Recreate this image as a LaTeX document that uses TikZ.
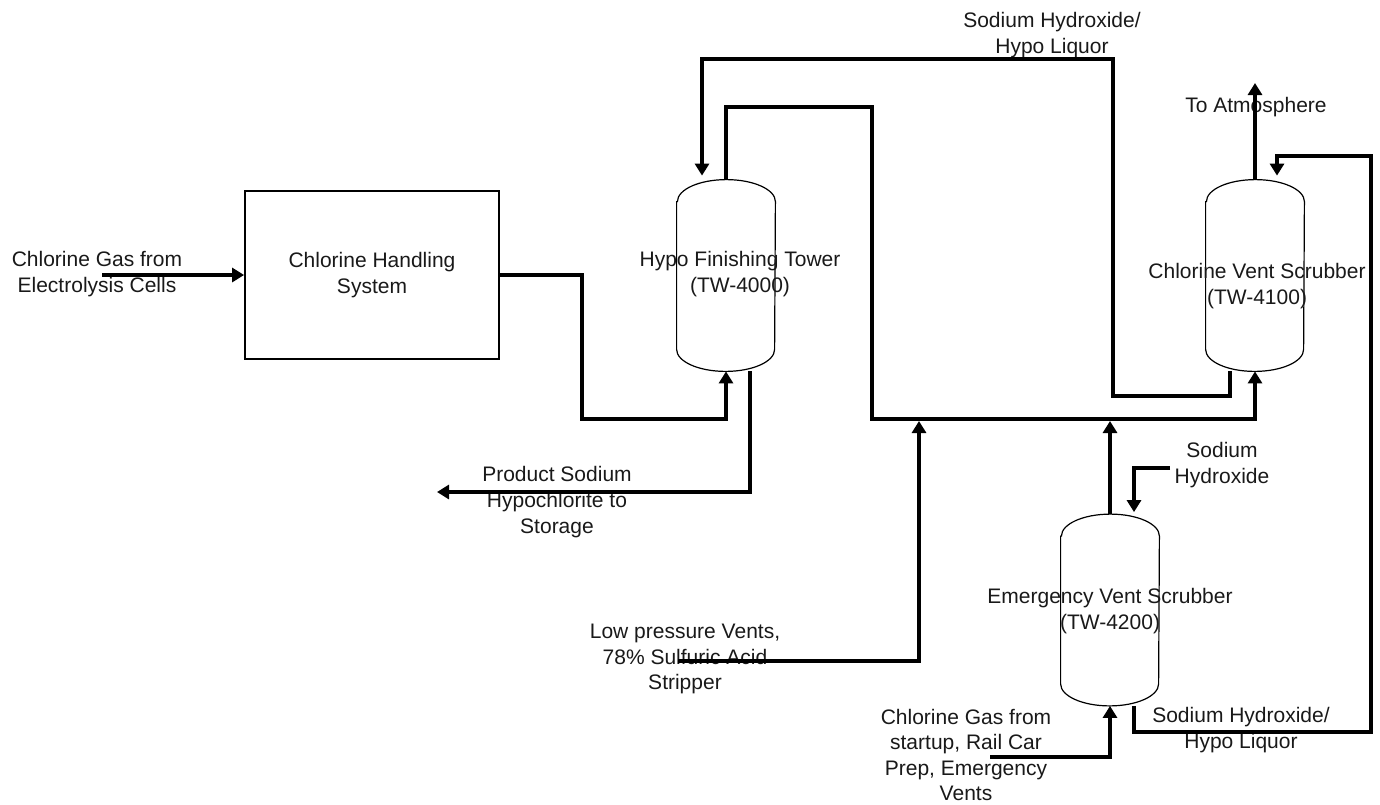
\documentclass[tikz,border=0pt]{standalone}
\usepackage{fontspec}
\setmainfont{Liberation Sans}
\usepackage{tikz}
\usetikzlibrary{arrows.meta,positioning,calc}
\definecolor{inkgray}{RGB}{25,25,25}
\tikzset{
  unitbox/.style={
    rectangle,
    draw=black,
    line width=0.9pt,
    minimum width=127pt,
    minimum height=84pt,
    inner sep=0pt,
    align=center,
    font=\fontsize{10.5}{13}\selectfont,
    text=inkgray
  },
  vessel/.style={
    rectangle,
    draw=none,
    minimum width=49pt,
    minimum height=95.5pt,
    inner sep=0pt
  },
  shell/.style={draw=black, line width=0.6pt},
  tag/.style={
    align=center,
    inner sep=0pt,
    font=\fontsize{10.5}{12.8}\selectfont,
    text=inkgray
  },
  flow/.style={-{Triangle[length=6pt,width=7pt]}, line width=1.6pt, black}
}
\newcommand{\drawshell}[1]{%
  \draw[shell] ([yshift=-11pt]#1.north west) -- ([yshift=11pt]#1.south west)
    arc[start angle=180, end angle=360, x radius=24.5pt, y radius=11pt]
    -- ([yshift=-11pt]#1.north east)
    arc[start angle=0, end angle=180, x radius=24.5pt, y radius=11pt] -- cycle;}

\begin{document}
\begin{tikzpicture}[x=0.5pt,y=-0.5pt]
\useasboundingbox (0,0) rectangle (1380,804);
\node[unitbox] (chs) at (372,275) {Chlorine Handling\\System};
\node[vessel] (hft) at (726,275.5) {};
\node[vessel] (cvs) at (1255,275.5) {};
\node[vessel] (evs) at (1110,610) {};
\drawshell{hft}
\drawshell{cvs}
\drawshell{evs}
\node[tag] (hftname) at (740,274) {Hypo Finishing Tower\\(TW-4000)};
\node[tag] (cvsname) at (1257,286) {Chlorine Vent Scrubber\\(TW-4100)};
\node[tag] (evsname) at (1110,611) {Emergency Vent Scrubber\\(TW-4200)};
\node[tag] (cgcells) at (97,274) {Chlorine Gas from\\Electrolysis Cells};
\node[tag] (liqtop) at (1052,35) {Sodium Hydroxide/\\Hypo Liquor};
\node[tag] (atm) at (1256,107) {To Atmosphere};
\node[tag] (prod) at (557,502) {Product Sodium\\Hypochlorite to\\Storage};
\node[tag] (lpv) at (685,659) {Low pressure Vents,\\78\% Sulfuric Acid\\Stripper};
\node[tag] (naoh) at (1222,465) {Sodium\\Hydroxide};
\node[tag] (cgstart) at (966,755) {Chlorine Gas from\\startup, Rail Car\\Prep, Emergency\\Vents};
\node[tag] (liqbot) at (1241,730) {Sodium Hydroxide/\\Hypo Liquor};
\coordinate (cgin) at (102,275);
\coordinate (prodout) at (437,492);
\coordinate (lpvin) at (678,661);
\coordinate (hdrA) at (919,421);
\coordinate (hdrB) at (1110,421);
\coordinate (vent) at (1255,83);
\coordinate (naohin) at (1170,468);
\coordinate (cgstartin) at (990,757);
\draw[flow] (cgin) -- (chs.west);
\draw[flow] (chs.east) -| (582,419) -| (hft.south);
\draw[flow] ([xshift=12pt]hft.south) |- (prodout);
\draw[flow] (hft.north) |- (872,107) -- (872,419) -| (cvs.south);
\draw[flow] ([xshift=-12.5pt]cvs.south) |- (1113,396) -- (1113,59) -| ([xshift=-12pt,yshift=2pt]hft.north);
\draw[flow] (cvs.north) -- (vent);
\draw[flow] (lpvin) -| (hdrA);
\draw[flow] (evs.north) -- (hdrB);
\draw[flow] (naohin) -| ([xshift=12pt,yshift=1pt]evs.north);
\draw[flow] (cgstartin) -| (evs.south);
\draw[flow] ([xshift=12pt]evs.south) |- (1371,732) |- (1277,156) -- ([xshift=11pt,yshift=2pt]cvs.north);
\end{tikzpicture}
\end{document}
